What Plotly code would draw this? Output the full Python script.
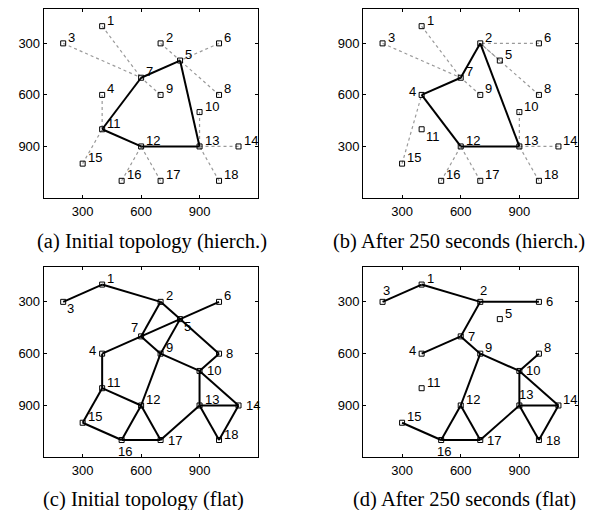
import plotly.graph_objects as go

# ---- data -------------------------------------------------------------
node_ids = list(range(1, 19))
node_x = [400, 700, 200, 400, 800, 1000, 600, 1000, 700, 900, 400, 600, 900, 1100, 300, 500, 700, 1000]
node_y = [200, 300, 300, 600, 400, 300, 500, 600, 600, 700, 800, 900, 900, 900, 1000, 1100, 1100, 1100]
# panel (b) is drawn with an upward y axis
node_y_b = [1000, 900, 900, 600, 800, 900, 700, 600, 600, 500, 400, 300, 300, 300, 200, 100, 100, 100]

# (a) hierarchical, initial
a_solid = [(7, 5), (5, 13), (13, 12), (12, 11), (11, 7)]
a_dotted = [(1, 7), (3, 7), (9, 7), (2, 5), (6, 5), (8, 5), (4, 11), (15, 11),
            (16, 12), (17, 12), (10, 13), (14, 13), (18, 13)]
# (b) hierarchical, after 250 s
b_solid = [(2, 7), (7, 4), (4, 12), (12, 13), (13, 2)]
b_dotted = [(1, 7), (3, 7), (9, 7), (6, 2), (5, 2), (8, 2), (15, 4),
            (16, 12), (17, 12), (10, 13), (14, 13), (18, 13)]
# (c) flat, initial
c_solid = [(3, 1), (1, 2), (2, 7), (2, 5), (6, 5), (5, 7), (7, 4), (7, 9), (5, 9), (5, 8),
           (9, 10), (8, 10), (9, 12), (4, 11), (11, 12), (11, 15), (15, 16), (12, 16),
           (12, 17), (16, 17), (17, 13), (13, 10), (10, 14), (13, 14), (13, 18), (14, 18)]
# (d) flat, after 250 s
d_solid = [(3, 1), (1, 2), (2, 6), (2, 7), (7, 4), (7, 9), (9, 10), (8, 10), (9, 12),
           (12, 16), (12, 17), (16, 17), (15, 16), (17, 13), (13, 10), (10, 14),
           (13, 14), (13, 18), (14, 18)]

tick_vals = [300, 600, 900]
tick_text = ["300", "600", "900"]
captions = ["(a) Initial topology (hierch.)", "(b) After 250 seconds (hierch.)",
            "(c) Initial topology (flat)", "(d) After 250 seconds (flat)"]

# ---- style ------------------------------------------------------------
W, H = 613, 510
SANS = "Liberation Sans, Arial, sans-serif"
SERIF = "Liberation Serif, Times New Roman, serif"

# label placement codes per panel (default 'R' = right/up)
place = {
    "a": {},
    "b": {4: "L", 11: "DR"},
    "c": {3: "DR", 7: "UL", 4: "L", 5: "DR", 16: "D", 14: "r", 17: "r", 8: "r", 10: "r"},
    "d": {3: "U", 2: "U", 7: "r", 4: "L", 13: "U", 16: "D", 17: "r", 18: "r", 6: "r", 10: "r"},
}
offsets = {
    "R": dict(xanchor="left", yanchor="middle", xshift=3, yshift=6),
    "r": dict(xanchor="left", yanchor="middle", xshift=5, yshift=0),
    "L": dict(xanchor="right", yanchor="middle", xshift=-4, yshift=3),
    "U": dict(xanchor="left", yanchor="middle", xshift=-2, yshift=11),
    "D": dict(xanchor="center", yanchor="middle", xshift=3, yshift=-11),
    "DR": dict(xanchor="left", yanchor="middle", xshift=2, yshift=-7),
    "UL": dict(xanchor="right", yanchor="middle", xshift=-1, yshift=9),
}

panels = [
    # key, xaxis, yaxis, ys, solid, dotted, x-domain px, y-domain px, y reversed
    ("a", "x", "y", node_y, a_solid, a_dotted, (35.7, 250), (1, 190), True),
    ("b", "x2", "y2", node_y_b, b_solid, b_dotted, (355, 570), (1, 190), False),
    ("c", "x3", "y3", node_y, c_solid, [], (35.7, 250), (259.3, 449.3), True),
    ("d", "x4", "y4", node_y, d_solid, [], (355, 570), (259.3, 449.3), True),
]

fig = go.Figure()
annotations = []
layout = {}


def edge_xy(edges, ys):
    xs, yy = [], []
    for s, t in edges:
        xs += [node_x[s - 1], node_x[t - 1], None]
        yy += [ys[s - 1], ys[t - 1], None]
    return xs, yy


for i, (key, xa, ya, ys, solid, dotted, xd, yd, rev) in enumerate(panels):
    if dotted:
        ex, ey = edge_xy(dotted, ys)
        fig.add_trace(go.Scatter(x=ex, y=ey, mode="lines", xaxis=xa, yaxis=ya,
                                 line=dict(color="#9a9a9a", width=1.2, dash="dot"),
                                 hoverinfo="skip", showlegend=False))
    ex, ey = edge_xy(solid, ys)
    fig.add_trace(go.Scatter(x=ex, y=ey, mode="lines", xaxis=xa, yaxis=ya,
                             line=dict(color="black", width=2),
                             hoverinfo="skip", showlegend=False))
    fig.add_trace(go.Scatter(x=node_x, y=ys, mode="markers", xaxis=xa, yaxis=ya,
                             marker=dict(symbol="square-open", size=5, color="black",
                                         line=dict(width=1, color="black")),
                             showlegend=False))
    for n, x, y in zip(node_ids, node_x, ys):
        code = place[key].get(n, "R")
        annotations.append(dict(x=x, y=y, xref=xa, yref=ya, text=str(n), showarrow=False,
                                font=dict(family=SANS, size=13, color="black"),
                                **offsets[code]))

    sfx = "" if i == 0 else str(i + 1)
    axis_common = dict(showgrid=False, zeroline=False, showline=True, linecolor="black",
                       linewidth=1, mirror="allticks", ticks="inside", ticklen=3,
                       tickcolor="black", tickvals=tick_vals, ticktext=tick_text,
                       tickfont=dict(family=SANS, size=13, color="black"), fixedrange=True)
    layout["xaxis" + sfx] = dict(axis_common, range=[100, 1200],
                                 domain=[xd[0] / W, xd[1] / W],
                                 anchor=ya, ticklabelstandoff=1)
    layout["yaxis" + sfx] = dict(axis_common,
                                 range=[1200, 100] if rev else [0, 1100],
                                 domain=[1 - yd[1] / H, 1 - yd[0] / H],
                                 anchor=xa)

cap_pos = [(144, 234), (451, 234), (135, 491), (456, 491)]
for text, (cx, cy) in zip(captions, cap_pos):
    annotations.append(dict(x=cx / W, y=1 - cy / H, xref="paper", yref="paper", text=text,
                            showarrow=False, xanchor="center", yanchor="middle",
                            font=dict(family=SERIF, size=20.5, color="black")))

fig.update_layout(width=W, height=H, margin=dict(l=0, r=0, t=0, b=0),
                  paper_bgcolor="white", plot_bgcolor="white",
                  annotations=annotations, **layout)

fig.write_html("out.html")
